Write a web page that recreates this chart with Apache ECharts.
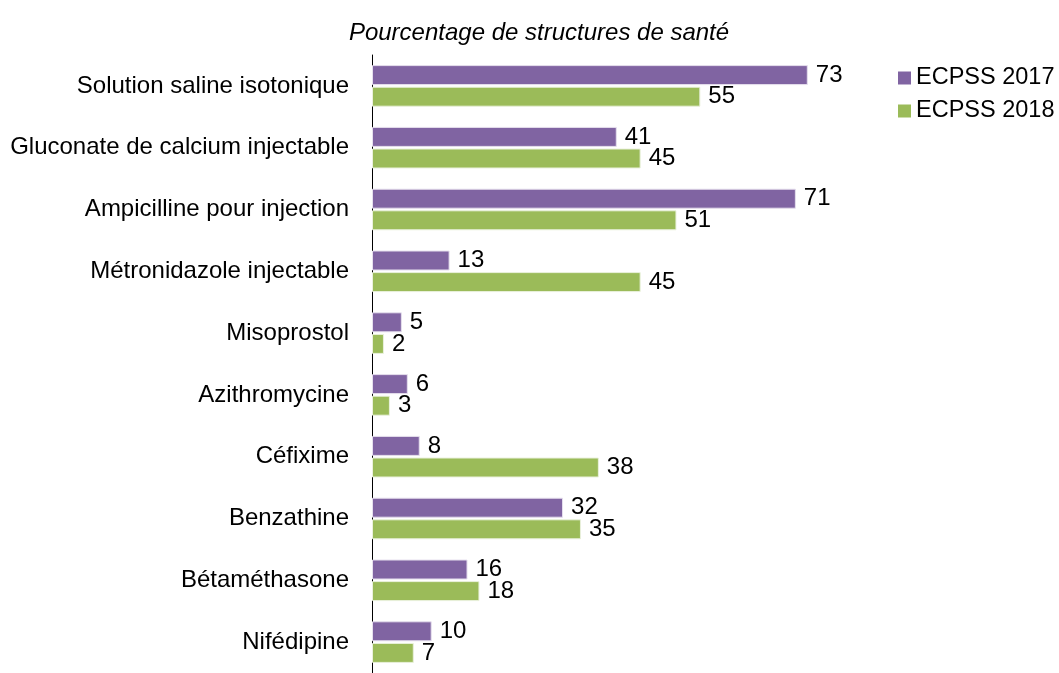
<!DOCTYPE html>
<html><head><meta charset="utf-8">
<script src="https://cdn.jsdelivr.net/npm/echarts@6/dist/echarts.min.js"></script>
<style>html,body{margin:0;padding:0;background:#fff}#c{width:1059px;height:673px}</style>
</head><body><div id="c"></div>
<script>
const categories = ["Solution saline isotonique","Gluconate de calcium injectable","Ampicilline pour injection","Métronidazole injectable","Misoprostol","Azithromycine","Céfixime","Benzathine","Bétaméthasone","Nifédipine"];
const ecpss2017 = [73,41,71,13,5,6,8,32,16,10];
const ecpss2018 = [55,45,51,45,2,3,38,35,18,7];
const seriesNames = ["ECPSS 2017","ECPSS 2018"];
const titleText = "Pourcentage de structures de santé";

const font = "Liberation Sans, Arial, sans-serif";
const FS = 24;
const chart = echarts.init(document.getElementById('c'), null, {renderer:'canvas'});
const lbl = {show:true, position:'right', distance:8, color:'#000', fontSize:FS, fontFamily:font};
chart.setOption({
  animation:false,
  title:{text:titleText, left:534, textAlign:'center', top:16, textStyle:{fontStyle:'italic', fontWeight:'normal', fontSize:FS, color:'#000', fontFamily:font}},
  legend:{orient:'vertical', left:898, top:66, padding:0, itemWidth:13, itemHeight:13, itemGap:9, icon:'rect',
    itemStyle:{borderWidth:0},
    textStyle:{fontSize:23.5, color:'#000', fontFamily:font}, data:seriesNames},
  grid:{left:372, top:55, width:597, height:626, containLabel:false},
  xAxis:{type:'value', min:0, max:100, show:false},
  yAxis:{type:'category', inverse:true, data:categories,
    axisLine:{show:true, lineStyle:{color:'#000', width:1}}, axisTick:{show:false},
    axisLabel:{fontSize:FS, color:'#000', fontFamily:font, margin:23}},
  series:[
    {name:seriesNames[0], type:'bar', data:ecpss2017, barWidth:20, barGap:'8%',
     itemStyle:{color:'#8064A2', borderColor:'#e6e0ee', borderWidth:1}, label:lbl},
    {name:seriesNames[1], type:'bar', data:ecpss2018, barWidth:20,
     itemStyle:{color:'#9BBB59', borderColor:'#eaf1dd', borderWidth:1}, label:lbl}
  ]
});
</script></body></html>
